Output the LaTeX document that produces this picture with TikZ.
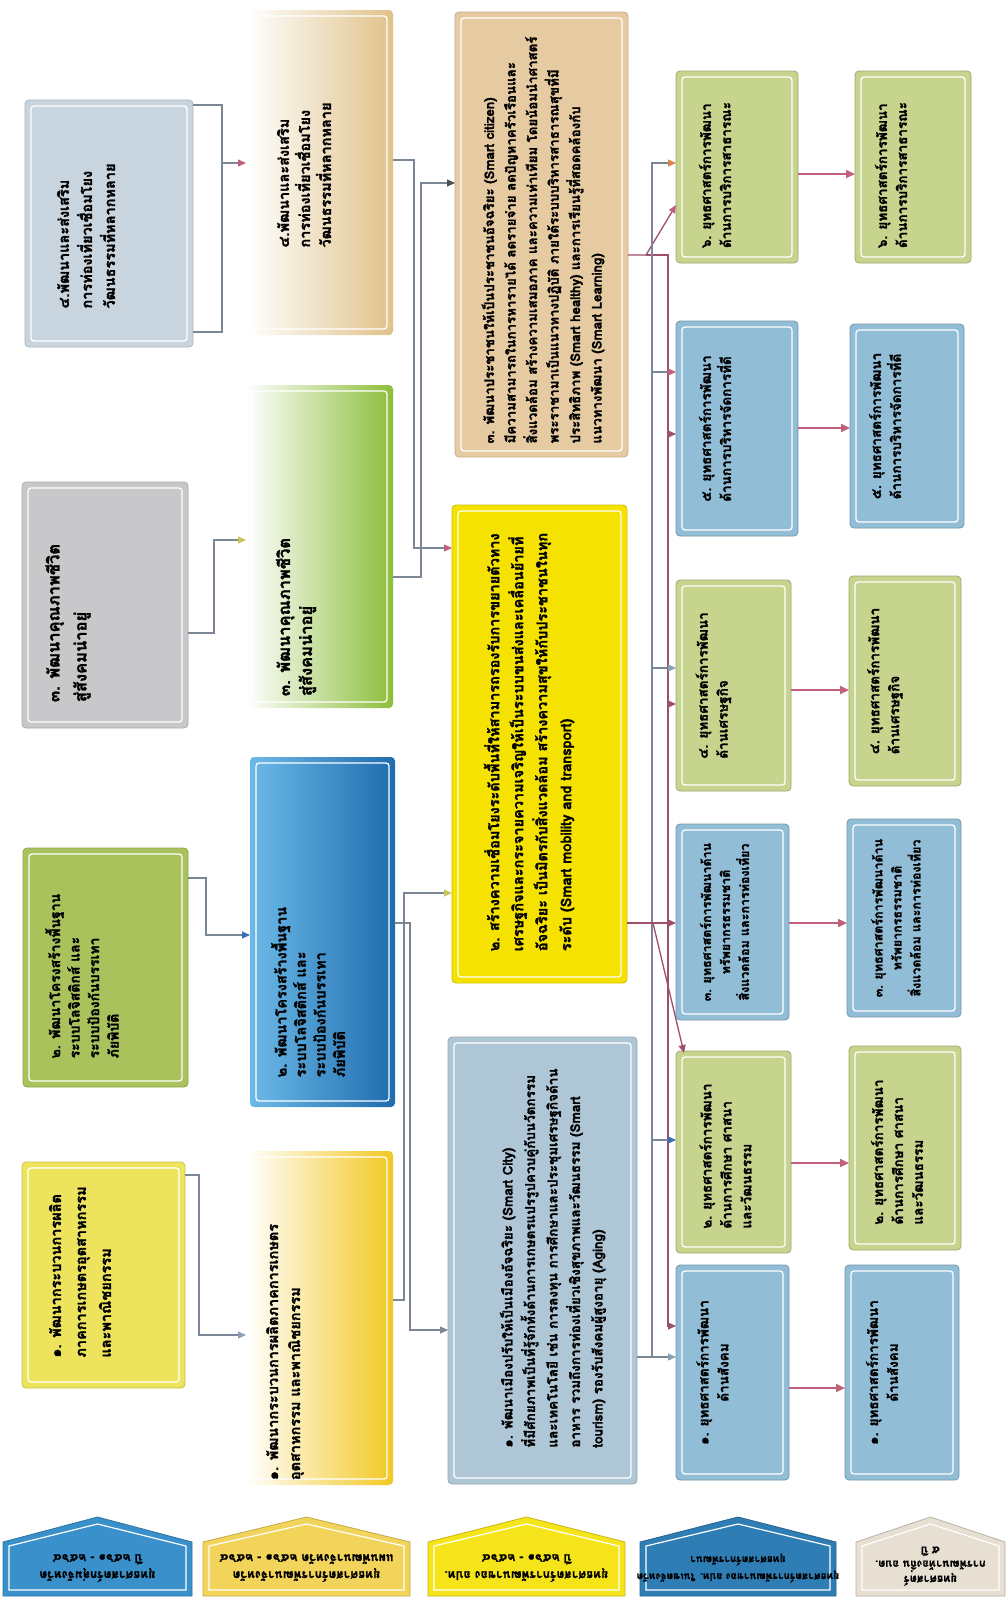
\documentclass[tikz,border=0pt]{standalone}
\usepackage{fontspec}
\setmainfont[Script=Thai,BoldFeatures={FakeBold=1.6}]{Loma}
\usetikzlibrary{arrows.meta,calc}
\definecolor{c1blue}{HTML}{C9D5DE}
\definecolor{c1gray}{HTML}{C8C8CA}
\definecolor{c1green}{HTML}{A9C25C}
\definecolor{c1yellow}{HTML}{EDE35C}
\definecolor{c2tan}{HTML}{E0C28A}
\definecolor{c2green}{HTML}{8CBE3A}
\definecolor{c2blue}{HTML}{1F6CAE}
\definecolor{c2lblue}{HTML}{6CB9E8}
\definecolor{c2yellow}{HTML}{F2C821}
\definecolor{citz}{HTML}{E6CBA2}
\definecolor{mobi}{HTML}{F6E200}
\definecolor{city}{HTML}{AFC6D6}
\definecolor{sgreen}{HTML}{C6D48E}
\definecolor{sblue}{HTML}{92BDD6}
\definecolor{hA}{HTML}{3A90CA}
\definecolor{hB}{HTML}{F2D45A}
\definecolor{hC}{HTML}{F6E41A}
\definecolor{hD}{HTML}{2E7DB5}
\definecolor{hE}{HTML}{E6DFD2}
\definecolor{lgray}{HTML}{7B8794}
\definecolor{lred}{HTML}{9E4F6E}
\definecolor{pk}{HTML}{C2607C}
\definecolor{tor}{HTML}{D9824C}
\definecolor{tbl}{HTML}{3B6FB5}
\definecolor{tye}{HTML}{C9C35E}
\definecolor{tgb}{HTML}{8AA0B8}
\newcommand\mybox[6]{%
  \node[rectangle,rounded corners=4pt,inner sep=0pt,outer sep=0pt,line width=0.8pt,#6,
        minimum width={(#4-#2)*1pt},minimum height={(#5-#3)*1pt}] (#1) at ({(#2+#4)/2},{(#3+#5)/2}) {};
  \draw[white,line width=1.3pt,rounded corners=3pt] ([shift={(6,6)}]#1.north west) rectangle ([shift={(-6,-6)}]#1.south east);}
\newcommand\myhead[4]{% name x1 x2 colour
  \filldraw[fill=#4,draw=#4!80!black,line width=0.8pt] (#2,1596) -- (#2,1542) -- ({(#2+#3)/2},1517) -- (#3,1542) -- (#3,1596) -- cycle;
  \draw[white,line width=1.2pt] (#2+6,1590) -- (#2+6,1546) -- ({(#2+#3)/2},1524) -- (#3-6,1546) -- (#3-6,1590) -- cycle;}
\tikzset{
  tx/.style={inner sep=0pt,align=left,text=black,font=\bfseries},
  conn/.style={draw=lgray,line width=1.1pt},
  connR/.style={draw=lred,line width=1.3pt},
  pkarrow/.style={draw=pk,line width=2pt,-{Triangle[length=9pt,width=8pt]}},
}
\newcommand\tipc[1]{-{Triangle[length=8pt,width=7pt,color=#1]}}
\begin{document}
\begin{tikzpicture}[x=1pt,y=-1pt]
\useasboundingbox (0,0) rectangle (1007,1599);
\fill[white] (0,0) rectangle (1007,1599);

% ---------- column 1
\mybox{c1d}{25}{100}{193}{347}{fill=c1blue,draw=c1blue!85!black}
\mybox{c1c}{22}{482}{188}{728}{fill=c1gray,draw=c1gray!85!black}
\mybox{c1b}{23}{848}{188}{1087}{fill=c1green,draw=c1green!85!black}
\mybox{c1a}{22}{1162}{185}{1388}{fill=c1yellow,draw=c1yellow!85!black}
\node[tx,rotate=90,font=\fontsize{14.5}{23}\selectfont\bfseries] (c1dt) at (86,236) {๔.พัฒนาและส่งเสริม\\การท่องเที่ยวเชื่อมโยง\\วัฒนธรรมที่หลากหลาย};
\node[tx,rotate=90,font=\fontsize{16.5}{27}\selectfont\bfseries] (c1ct) at (68,623) {๓. พัฒนาคุณภาพชีวิต\\สู่สังคมน่าอยู่};
\node[tx,rotate=90,font=\fontsize{14}{19.5}\selectfont\bfseries] (c1bt) at (82,976) {๒. พัฒนาโครงสร้างพื้นฐาน\\ระบบโลจิสติกส์ และ\\ระบบป้องกันบรรเทา\\ภัยพิบัติ};
\node[tx,rotate=90,font=\fontsize{14.5}{25}\selectfont\bfseries] (c1at) at (80,1272) {๑. พัฒนากระบวนการผลิต\\ภาคการเกษตรอุตสาหกรรม\\และพาณิชยกรรม};

% ---------- column 2
\mybox{c2d}{246}{10}{393}{335}{left color=white,right color=c2tan}
\mybox{c2c}{246}{385}{393}{708}{left color=white,right color=c2green}
\mybox{c2b}{250}{757}{395}{1107}{left color=c2lblue,right color=c2blue}
\mybox{c2a}{246}{1151}{393}{1485}{left color=white,right color=c2yellow}
\node[tx,rotate=90,font=\fontsize{14.5}{21}\selectfont\bfseries] (c2dt) at (304,175) {๔.พัฒนาและส่งเสริม\\การท่องเที่ยวเชื่อมโยง\\วัฒนธรรมที่หลากหลาย};
\node[tx,rotate=90,font=\fontsize{16.5}{22}\selectfont\bfseries] (c2ct) at (296,617) {๓. พัฒนาคุณภาพชีวิต\\สู่สังคมน่าอยู่};
\node[tx,rotate=90,font=\fontsize{14.5}{19.5}\selectfont\bfseries] (c2bt) at (308,992) {๒. พัฒนาโครงสร้างพื้นฐาน\\ระบบโลจิสติกส์ และ\\ระบบป้องกันบรรเทา\\ภัยพิบัติ};
\node[tx,rotate=90,font=\fontsize{14.5}{22}\selectfont\bfseries] (c2at) at (285,1352) {๑. พัฒนากระบวนการผลิตภาคการเกษตร\\อุตสาหกรรม และพาณิชยกรรม};

% ---------- column 3
\mybox{cit}{455}{12}{628}{457}{fill=citz,draw=citz!85!black}
\mybox{mob}{452}{505}{627}{983}{fill=mobi,draw=mobi!85!black}
\mybox{cty}{448}{1037}{637}{1484}{fill=city,draw=city!85!black}
\node[tx,rotate=90,font=\fontsize{13.3}{21.5}\selectfont\bfseries] (citt) at (543,240) {๓. พัฒนาประชาชนให้เป็นประชาชนอัจฉริยะ (Smart citizen)\\มีความสามารถในการหารายได้ ลดรายจ่าย ลดปัญหาครัวเรือนและ\\สิ่งแวดล้อม สร้างความเสมอภาค และความเท่าเทียม โดยน้อมนำศาสตร์\\พระราชามาเป็นแนวทางปฏิบัติ ภายใต้ระบบบริหารสาธารณสุขที่มี\\ประสิทธิภาพ (Smart healthy) และการเรียนรู้ที่สอดคล้องกับ\\แนวทางพัฒนา (Smart Learning)};
\node[tx,rotate=90,font=\fontsize{14.5}{24}\selectfont\bfseries] (mobt) at (529,742) {๒. สร้างความเชื่อมโยงระดับพื้นที่ให้สามารถรองรับการขยายตัวทาง\\เศรษฐกิจและกระจายความเจริญให้เป็นระบบขนส่งและเคลื่อนย้ายที่\\อัจฉริยะ เป็นมิตรกับสิ่งแวดล้อม สร้างความสุขให้กับประชาชนในทุก\\ระดับ (Smart mobility and transport)};
\node[tx,rotate=90,font=\fontsize{13.5}{22.5}\selectfont\bfseries] (ctyt) at (553,1258) {๑. พัฒนาเมืองปรับให้เป็นเมืองอัจฉริยะ (Smart City)\\ที่มีศักยภาพเป็นที่รู้จักทั้งด้านการเกษตรแปรรูปควบคู่กับนวัตกรรม\\และเทคโนโลยี เช่น การลงทุน การศึกษาและประชุมเศรษฐกิจด้าน\\อาหาร รวมถึงการท่องเที่ยวเชิงสุขภาพและวัฒนธรรม (Smart\\tourism) รองรับสังคมผู้สูงอายุ (Aging)};

% ---------- column 4
\mybox{s6a}{676}{71}{798}{263}{fill=sgreen,draw=sgreen!80!black}
\mybox{s5a}{676}{321}{798}{536}{fill=sblue,draw=sblue!80!black}
\mybox{s4a}{676}{580}{791}{791}{fill=sgreen,draw=sgreen!80!black}
\mybox{s3a}{676}{824}{789}{1020}{fill=sblue,draw=sblue!80!black}
\mybox{s2a}{676}{1051}{791}{1253}{fill=sgreen,draw=sgreen!80!black}
\mybox{s1a}{676}{1265}{789}{1480}{fill=sblue,draw=sblue!80!black}
% ---------- column 5
\mybox{s6b}{855}{71}{971}{263}{fill=sgreen,draw=sgreen!80!black}
\mybox{s5b}{850}{324}{964}{528}{fill=sblue,draw=sblue!80!black}
\mybox{s4b}{849}{576}{961}{786}{fill=sgreen,draw=sgreen!80!black}
\mybox{s3b}{847}{819}{961}{1017}{fill=sblue,draw=sblue!80!black}
\mybox{s2b}{849}{1046}{961}{1250}{fill=sgreen,draw=sgreen!80!black}
\mybox{s1b}{845}{1265}{959}{1480}{fill=sblue,draw=sblue!80!black}

\tikzset{st/.style={tx,rotate=90,font=\fontsize{13.5}{20}\selectfont\bfseries}}
\foreach \c in {a,b}{
  \node[st] (s6\c t) at ([shift={(-22,8)}]s6\c.center) {๖. ยุทธศาสตร์การพัฒนา\\ด้านการบริการสาธารณะ};
  \node[st] (s5\c t) at ([shift={(-22,0)}]s5\c.center) {๕. ยุทธศาสตร์การพัฒนา\\ด้านการบริหารจัดการที่ดี};
  \node[st] (s4\c t) at ([shift={(-20,0)}]s4\c.center) {๔. ยุทธศาสตร์การพัฒนา\\ด้านเศรษฐกิจ};
  \node[st,align=center,font=\fontsize{12.5}{19}\selectfont\bfseries] (s3\c t) at ([shift={(-8,0)}]s3\c.center) {๓. ยุทธศาสตร์การพัฒนาด้าน\\ทรัพยากรธรรมชาติ\\สิ่งแวดล้อม และการท่องเที่ยว};
  \node[st] (s2\c t) at ([shift={(-8,4)}]s2\c.center) {๒. ยุทธศาสตร์การพัฒนา\\ด้านการศึกษา ศาสนา\\และวัฒนธรรม};
  \node[st,align=center] (s1\c t) at ([shift={(-20,0)}]s1\c.center) {๑. ยุทธศาสตร์การพัฒนา\\ด้านสังคม};
}

% ---------- headers
\myhead{hA}{3}{192}{hA}
\myhead{hB}{203}{410}{hB}
\myhead{hC}{428}{625}{hC}
\myhead{hD}{640}{836}{hD}
\myhead{hE}{856}{1005}{hE}
\tikzset{ht/.style={inner sep=0pt,align=center,rotate=180,font=\fontsize{12}{17}\selectfont\bfseries}}
\node[ht] (hAt) at (97.5,1568) {ยุทธศาสตร์กลุ่มจังหวัด\\ปี ๒๕๖๑ - ๒๕๖๔};
\node[ht] (hBt) at (306.5,1568) {ยุทธศาสตร์การพัฒนาจังหวัด\\แผนพัฒนาจังหวัด ๒๕๖๑ - ๒๕๖๔};
\node[ht] (hCt) at (526.5,1568) {ยุทธศาสตร์การพัฒนาของ อปท.\\ปี ๒๕๖๑ - ๒๕๖๔};
\node[ht,font=\fontsize{10.2}{17}\selectfont\bfseries] (hDt) at (738,1568) {ยุทธศาสตร์การพัฒนาของ อปท. ในเขตจังหวัด\\ยุทธศาสตร์การพัฒนา};
\node[ht,font=\fontsize{11}{14}\selectfont\bfseries] (hEt) at (930.5,1566) {ยุทธศาสตร์\\การพัฒนาท้องถิ่น อบต.\\๕ ปี};

% ---------- connectors column 1 -> 2
\draw[conn] (c1d.east |- 0,105) -- (222,105) -- (222,332) -- (c1d.east |- 0,332);
\draw[conn,\tipc{pk}] (222,163) -- (c2d.west |- 0,163);
\draw[conn,\tipc{tye}] (c1c.east |- 0,633) -| (214,540) -- (c2c.west |- 0,540);
\draw[conn,\tipc{tbl}] (c1b.east |- 0,878) -| (206,935) -- (c2b.west |- 0,935);
\draw[conn,\tipc{tgb}] (c1a.east |- 0,1175) -| (199,1335) -- (c2a.west |- 0,1335);

% ---------- connectors column 2 -> 3
\draw[conn,\tipc{pk}] (c2d.east |- 0,160) -| (414,548) -- (mob.west |- 0,548);
\draw[conn,\tipc{lgray!60!black}] (c2c.east |- 0,577) -| (421,183) -- (cit.west |- 0,183);
\draw[conn,\tipc{lgray}] (c2b.east |- 0,923) -| (410,1330) -- (cty.west |- 0,1330);
\draw[conn,\tipc{tye}] (c2a.east |- 0,1300) -| (404,893) -- (mob.west |- 0,893);

% ---------- connectors column 3 -> 4
\coordinate (cj) at (646,255);
\draw[connR,\tipc{pk}] (cit.east |- 0,255) -- (cj) -- (s6a.west |- 0,205);
\draw[connR,\tipc{lred}] (cj) -- (668,255) -- (668,1326) -- (s1a.west |- 0,1326);
\draw[connR,\tipc{lred}] (668,434) -- (s5a.west |- 0,434);
\draw[connR,\tipc{lred}] (668,704) -- (s4a.west |- 0,704);
\draw[conn,\tipc{tor}] (cty.east |- 0,1357) -| (652,163) -- (s6a.west |- 0,163);
\draw[conn,\tipc{tgb}] (652,1357) -- (s1a.west |- 0,1357);
\draw[conn,\tipc{pk}] (652,372) -- (s5a.west |- 0,372);
\draw[conn,\tipc{tgb}] (652,668) -- (s4a.west |- 0,668);
\draw[conn,\tipc{tbl}] (652,1140) -- (s2a.west |- 0,1140);
\draw[connR,\tipc{lred}] (mob.east |- 0,923) -- (s3a.west |- 0,923);
\draw[connR,\tipc{lred}] (653,923) -- ([shift={(8,2)}]s2a.north west);

% ---------- column 4 -> 5
\draw[pkarrow] (s6a.east |- 0,174) -- (s6b.west |- 0,174);
\draw[pkarrow] (s5a.east |- 0,428) -- (s5b.west |- 0,428);
\draw[pkarrow] (s4a.east |- 0,690) -- (s4b.west |- 0,690);
\draw[pkarrow] (s3a.east |- 0,923) -- (s3b.west |- 0,923);
\draw[pkarrow] (s2a.east |- 0,1163) -- (s2b.west |- 0,1163);
\draw[pkarrow] (s1a.east |- 0,1388) -- (s1b.west |- 0,1388);
\end{tikzpicture}
\end{document}
